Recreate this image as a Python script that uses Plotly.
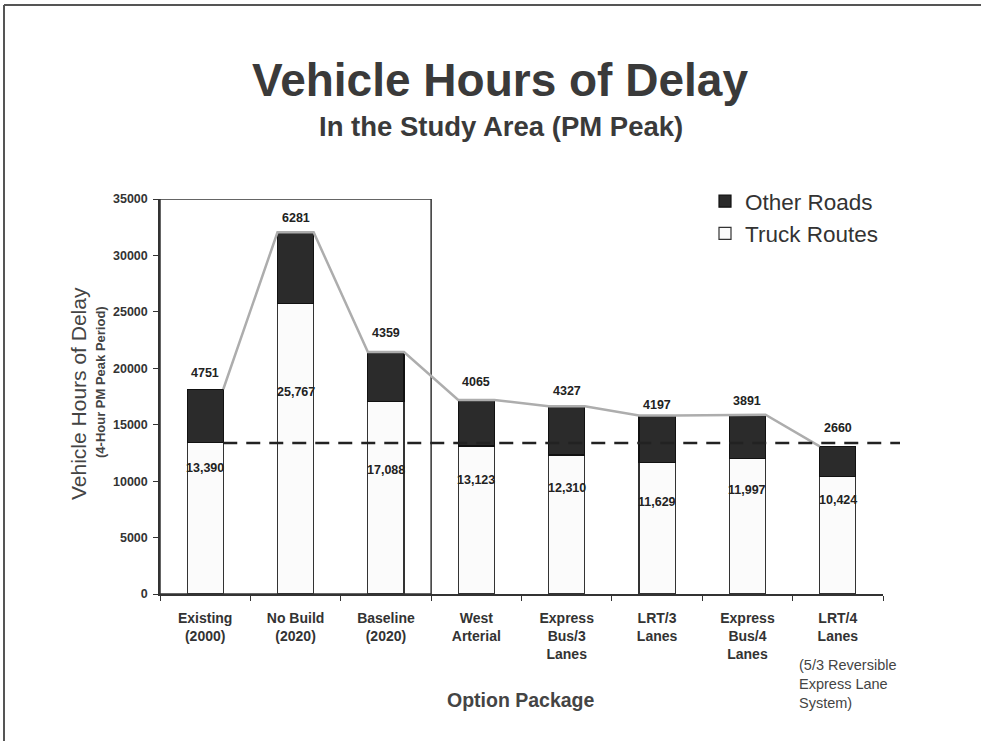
import plotly.graph_objects as go

# ---------------- data ----------------
categories = ["Existing<br>(2000)", "No Build<br>(2020)", "Baseline<br>(2020)", "West<br>Arterial",
              "Express<br>Bus/3<br>Lanes", "LRT/3<br>Lanes", "Express<br>Bus/4<br>Lanes", "LRT/4<br>Lanes"]
truck_routes = [13390, 25767, 17088, 13123, 12310, 11629, 11997, 10424]
other_roads = [4751, 6281, 4359, 4065, 4327, 4197, 3891, 2660]
y_ticks = [0, 5000, 10000, 15000, 20000, 25000, 30000, 35000]
lrt4_note = "(5/3 Reversible<br>Express Lane<br>System)"

# ---------------- styling ----------------
FONT = "Liberation Sans, Arial, sans-serif"
W, H = 981, 741
L, R, T, B = 160, 98, 199, 147
PW, PH = W - L - R, H - T - B
BAR_W = 0.4
YMAX = 35000
truck_label_drop = [25, 89, 69, 34, 33, 39, 31, 24]   # px below segment boundary
other_label_rise = [16, 14, 19, 18, 15, 10, 14, 18]    # px above bar top


def px_x(p):
    return (p - L) / PW


def px_y(p):
    return (H - B - p) / PH


n = len(categories)
idx = list(range(n))
totals = [t + o for t, o in zip(truck_routes, other_roads)]

fig = go.Figure()
fig.add_trace(go.Bar(x=categories, y=truck_routes, name="Truck Routes", width=BAR_W,
                     marker=dict(color="#fbfbfb", line=dict(color="#333333", width=1.2)),
                     hoverinfo="skip"))
fig.add_trace(go.Bar(x=categories, y=other_roads, name="Other Roads", width=BAR_W,
                     marker=dict(color="#2b2b2b", line=dict(color="#111111", width=1.2)),
                     hoverinfo="skip"))

# connector line along bar tops
cx, cy = [], []
for i in idx:
    if i > 0:
        cx.append(i - BAR_W / 2)
        cy.append(totals[i])
    if i < n - 1:
        cx.append(i + BAR_W / 2)
        cy.append(totals[i])
fig.add_trace(go.Scatter(x=cx, y=cy, mode="lines", xaxis="x2", yaxis="y",
                         line=dict(color="#adadad", width=2.5), showlegend=False, hoverinfo="skip"))

annotations = []
for i in idx:
    annotations.append(dict(x=i, y=truck_routes[i], xref="x", yref="y", text=f"{truck_routes[i]:,}",
                            showarrow=False, xanchor="center", yanchor="middle", yshift=-truck_label_drop[i],
                            font=dict(family=FONT, size=12.5, color="#222", weight="bold")))
    annotations.append(dict(x=i, y=totals[i], xref="x", yref="y", text=str(other_roads[i]),
                            showarrow=False, xanchor="center", yanchor="middle", yshift=other_label_rise[i],
                            font=dict(family=FONT, size=12.5, color="#222", weight="bold")))

annotations += [
    dict(x=px_x(500), y=px_y(80), xref="paper", yref="paper", text="Vehicle Hours of Delay",
         xanchor="center", yanchor="middle", showarrow=False,
         font=dict(family=FONT, size=46, color="#3a3a3a", weight="bold")),
    dict(x=px_x(501), y=px_y(127), xref="paper", yref="paper", text="In the Study Area (PM Peak)",
         xanchor="center", yanchor="middle", showarrow=False,
         font=dict(family=FONT, size=27.5, color="#3a3a3a", weight="bold")),
    dict(x=px_x(78), y=px_y(394), xref="paper", yref="paper", text="Vehicle Hours of Delay",
         xanchor="center", yanchor="middle", textangle=-90, showarrow=False,
         font=dict(family=FONT, size=21, color="#444")),
    dict(x=px_x(100), y=px_y(382), xref="paper", yref="paper", text="(4-Hour PM Peak Period)",
         xanchor="center", yanchor="middle", textangle=-90, showarrow=False,
         font=dict(family=FONT, size=13, color="#444", weight="bold")),
    dict(x=px_x(521), y=px_y(700), xref="paper", yref="paper", text="Option Package",
         xanchor="center", yanchor="middle", showarrow=False,
         font=dict(family=FONT, size=19.5, color="#444", weight="bold")),
    dict(x=px_x(797), y=px_y(684), xref="paper", yref="paper", text=lrt4_note, align="left",
         xanchor="left", yanchor="middle", showarrow=False,
         font=dict(family=FONT, size=14.5, color="#444")),
]

shapes = [
    # highlight box around first three options
    dict(type="rect", xref="x", yref="y", x0=-0.5, x1=2.5, y0=0, y1=YMAX,
         line=dict(color="#333", width=1.5), layer="below"),
    # dashed reference at existing truck-route level
    dict(type="line", xref="paper", yref="paper", x0=(0 + BAR_W / 2 + 0.5) / n, x1=px_x(900),
         y0=truck_routes[0] / YMAX, y1=truck_routes[0] / YMAX,
         line=dict(color="#222", width=2.5, dash="14px,9px")),
    # page frame (top and left)
    dict(type="line", xref="paper", yref="paper", x0=px_x(4), x1=px_x(981), y0=px_y(5), y1=px_y(5),
         line=dict(color="#555", width=2)),
    dict(type="line", xref="paper", yref="paper", x0=px_x(4), x1=px_x(4), y0=px_y(5), y1=px_y(741),
         line=dict(color="#555", width=2)),
]

fig.update_layout(
    width=W, height=H, margin=dict(l=L, r=R, t=T, b=B, pad=0),
    paper_bgcolor="white", plot_bgcolor="white",
    barmode="stack", bargap=0.6,
    font=dict(family=FONT, color="#333"),
    showlegend=True,
    legend=dict(x=px_x(705), y=px_y(180), xanchor="left", yanchor="top",
                traceorder="reversed", itemwidth=30,
                font=dict(family=FONT, size=22.5, color="#333"), bgcolor="rgba(0,0,0,0)"),
    xaxis=dict(type="category", tickson="boundaries", ticks="outside", ticklen=5, tickcolor="#333",
               showline=True, linecolor="#333", linewidth=1.5, showgrid=False, zeroline=False,
               tickfont=dict(family=FONT, size=14, color="#333", weight="bold"),
               ticklabelstandoff=10, range=[-0.5, n - 0.5], fixedrange=True),
    xaxis2=dict(overlaying="x", range=[-0.5, n - 0.5], visible=False, anchor="y"),
    yaxis=dict(range=[0, YMAX], tickvals=y_ticks, ticktext=[str(v) for v in y_ticks],
               ticks="outside", ticklen=5, tickcolor="#333", showline=True, linecolor="#333",
               linewidth=1.5, showgrid=False, zeroline=False, ticklabelstandoff=3,
               tickfont=dict(family=FONT, size=12.5, color="#333", weight="bold")),
    annotations=annotations, shapes=shapes,
)

fig.write_html("out.html", config={"displayModeBar": False},
               post_script="document.body.style.margin='0px';")
